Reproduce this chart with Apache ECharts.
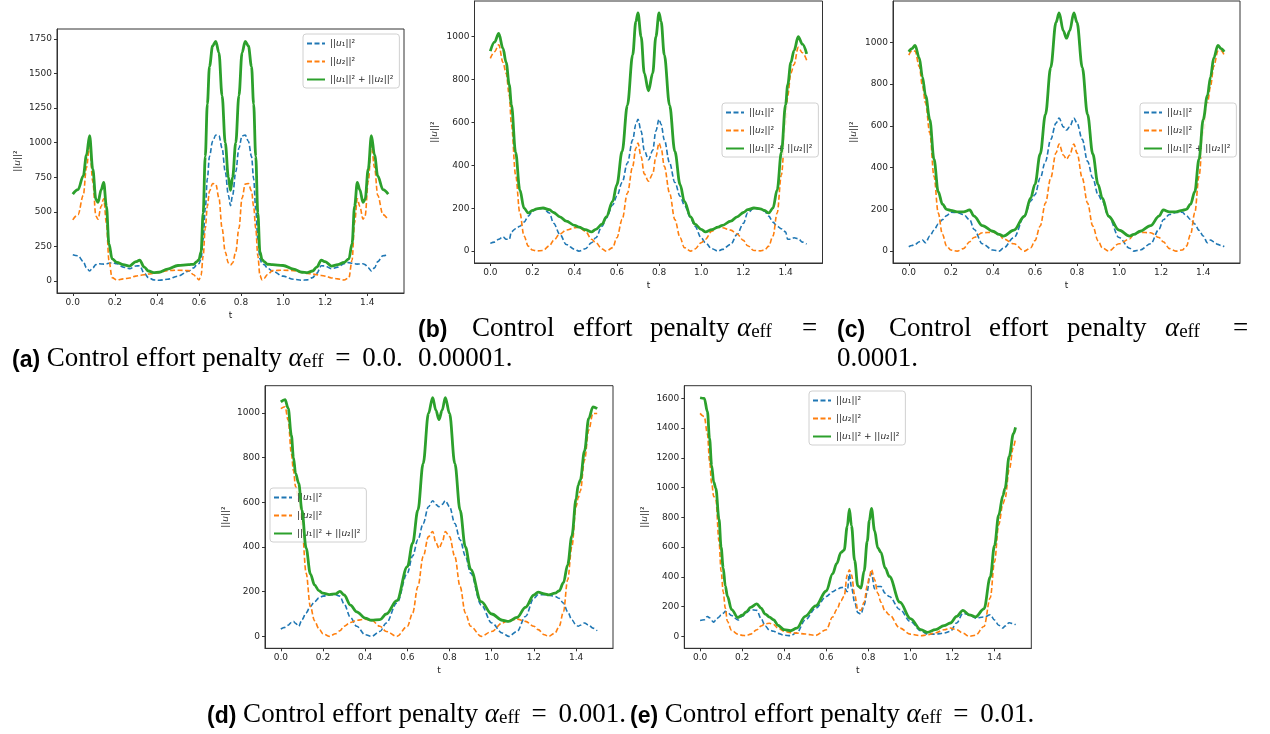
<!DOCTYPE html>
<html><head><meta charset="utf-8">
<script src="https://cdn.jsdelivr.net/npm/echarts@6/dist/echarts.min.js"></script>
<style>html,body{margin:0;padding:0;background:#fff}#c{width:1270px;height:734px}</style>
</head><body><div id="c"></div>
<script>
// ---------- data ----------
const xTicks = [0, 0.2, 0.4, 0.6, 0.8, 1.0, 1.2, 1.4];
const A_yTicks = [0, 250, 500, 750, 1000, 1250, 1500, 1750];
const BCD_yTicks = [0, 200, 400, 600, 800, 1000];
const E_yTicks = [0, 200, 400, 600, 800, 1000, 1200, 1400, 1600];

// (a) alpha_eff = 0.0
const A_t = [0,0.025,0.05,0.065,0.08,0.095,0.11,0.12,0.135,0.147,0.16,0.172,0.187,0.21,0.24,0.27,0.3,0.318,0.34,0.36,0.385,0.41,0.45,0.5,0.55,0.575,0.59,0.6,0.61,0.62,0.63,0.64,0.65,0.665,0.68,0.695,0.71,0.725,0.74,0.75,
  0.76,0.775,0.79,0.805,0.82,0.835,0.85,0.86,0.87,0.88,0.89,0.9,0.91,0.925,0.95,1.0,1.05,1.09,1.115,1.14,1.16,1.182,1.2,1.23,1.26,1.29,1.313,1.328,1.34,1.353,1.365,1.38,1.39,1.405,1.42,1.435,1.45,1.475,1.5];
const A_u1 = [190,182,140,95,72,95,118,125,123,122,124,128,133,125,100,89,108,110,55,24,8,5,12,35,70,95,118,125,160,300,520,740,900,1010,1055,1050,960,790,620,545,
  620,790,960,1050,1055,1010,900,740,520,300,160,125,118,95,70,35,12,5,8,24,55,110,108,89,100,125,133,128,124,122,123,125,118,95,72,95,140,182,190];
const A_u2 = [442,480,620,820,985,720,470,447,540,595,420,150,24,7,15,22,35,40,45,50,55,62,75,78,75,45,20,8,40,180,380,540,650,705,700,600,380,210,130,115,
  130,210,380,600,700,705,650,540,380,180,40,8,20,45,75,78,75,62,55,50,45,40,35,22,15,7,24,150,420,595,540,447,470,720,985,820,620,480,442];
const A_sum = [628,660,760,910,1050,810,590,568,660,712,540,270,160,135,118,108,140,150,100,72,60,63,85,112,118,121,140,155,210,490,900,1280,1550,1700,1732,1650,1340,1000,750,655,
  750,1000,1340,1650,1732,1700,1550,1280,900,490,210,155,140,121,118,112,85,63,60,72,100,150,140,108,118,135,160,270,540,712,660,568,590,810,1050,910,760,660,628];

// (b) alpha_eff = 0.00001
const B_t = [0,0.02,0.04,0.06,0.075,0.09,0.1,0.12,0.14,0.16,0.18,0.2,0.22,0.25,0.28,0.3,0.33,0.36,0.4,0.42,0.45,0.48,0.5,0.53,0.55,0.58,0.6,0.625,0.65,0.675,0.69,0.7,0.715,0.73,0.75,
  0.77,0.785,0.8,0.81,0.825,0.85,0.875,0.9,0.92,0.95,0.97,1.0,1.02,1.05,1.08,1.1,1.14,1.17,1.2,1.22,1.25,1.28,1.3,1.32,1.34,1.36,1.38,1.4,1.41,1.425,1.44,1.46,1.48,1.5];
const B_u1 = [36,42,55,67,55,55,90,104,116,135,163,186,196,200,178,130,78,31,8,0,11,39,62,116,155,215,256,320,411,519,590,615,560,470,426,
  470,560,615,590,519,411,320,256,215,155,116,62,39,11,0,8,31,78,130,178,200,196,186,163,135,116,104,90,55,55,62,58,42,33];
const B_u2 = [899,930,962,880,830,725,590,355,178,70,23,5,1,3,25,50,80,98,109,112,93,55,39,10,0,16,62,147,270,395,480,504,440,360,326,
  360,440,504,480,395,270,147,62,16,0,10,39,55,93,112,109,98,80,50,25,3,1,5,23,70,178,355,590,725,830,870,950,925,890];
const B_sum = [933,975,1015,945,880,775,683,460,285,200,178,190,197,201,193,180,160,140,120,112,100,90,101,126,160,232,310,465,680,915,1070,1111,1000,830,748,
  830,1000,1111,1070,915,680,465,310,232,160,126,101,90,100,112,120,140,160,180,193,201,197,190,178,200,285,460,683,775,880,935,1000,965,920];

// (c) alpha_eff = 0.0001
const C_t = [0,0.015,0.03,0.05,0.065,0.08,0.1,0.12,0.14,0.16,0.18,0.2,0.23,0.26,0.29,0.31,0.35,0.4,0.43,0.45,0.5,0.55,0.58,0.6,0.625,0.65,0.675,0.7,0.715,0.735,0.75,
  0.765,0.785,0.8,0.825,0.85,0.875,0.9,0.92,0.95,1.0,1.05,1.07,1.1,1.15,1.19,1.21,1.24,1.27,1.3,1.32,1.34,1.36,1.38,1.4,1.42,1.435,1.45,1.47,1.485,1.5];
const C_u1 = [21,27,32,45,53,40,72,100,130,151,170,186,185,175,150,105,35,5,0,14,65,167,240,270,350,430,535,613,637,595,580,
  595,637,613,535,430,350,270,240,167,65,14,0,5,35,105,150,175,185,186,170,151,130,100,72,40,53,45,32,27,21];
const C_u2 = [939,960,958,884,790,708,565,358,183,80,24,5,0,12,45,65,88,90,80,58,35,0,16,50,120,230,350,470,513,460,440,
  460,513,470,350,230,120,50,16,0,35,58,80,90,88,65,45,12,0,5,24,80,183,358,565,708,790,884,958,960,939];
const C_sum = [955,970,985,925,835,745,630,440,285,225,200,195,188,188,197,168,122,95,80,72,100,167,255,320,465,655,880,1095,1141,1055,1020,
  1055,1141,1095,880,655,465,320,255,167,100,72,80,95,122,168,197,188,188,195,200,225,285,440,630,745,835,925,985,970,955];

// (d) alpha_eff = 0.001
const D_t = [0,0.02,0.035,0.05,0.06,0.07,0.085,0.1,0.12,0.14,0.16,0.18,0.2,0.23,0.26,0.28,0.3,0.33,0.36,0.4,0.43,0.47,0.5,0.55,0.6,0.625,0.65,0.675,0.7,0.72,0.735,0.75,0.765,0.78,0.8,0.825,0.85,0.875,0.9,0.95,1.0,1.05,1.08,1.12,1.16,1.2,1.22,1.25,1.27,1.3,1.32,1.34,1.36,1.38,1.4,1.41,1.42,1.44,1.46,1.48,1.5];
const D_u1 = [33,40,50,62,67,58,45,74,105,134,155,171,180,186,186,180,145,85,45,7,0,22,60,149,283,360,432,505,580,607,590,580,590,607,580,505,432,360,283,141,60,15,0,22,89,171,186,186,184,179,170,149,110,74,50,45,50,60,50,37,25];
const D_u2 = [1019,1027,967,818,740,670,610,491,283,134,70,35,12,0,12,25,45,62,72,77,72,45,22,0,45,104,223,357,446,469,420,394,420,469,446,357,223,104,45,0,22,60,72,77,67,45,30,7,0,15,45,110,253,402,580,620,650,789,923,997,997];
const D_sum = [1049,1059,1020,900,800,729,684,565,395,280,230,205,193,187,190,201,185,140,110,82,72,75,100,160,312,417,565,774,997,1068,1012,970,1012,1068,997,774,565,400,300,155,100,72,67,85,130,185,198,190,186,193,204,240,320,450,615,677,699,830,975,1027,1019];

// (e) alpha_eff = 0.01
const E_t = [0,0.02,0.035,0.045,0.055,0.065,0.075,0.09,0.1,0.11,0.12,0.13,0.15,0.18,0.2,0.22,0.24,0.27,0.29,0.31,0.33,0.35,0.37,0.4,0.43,0.46,0.5,0.55,0.6,0.63,0.65,0.67,0.685,0.7,0.71,0.72,0.735,0.75,0.765,0.78,0.795,0.805,0.815,0.83,0.845,0.86,0.88,0.9,0.95,1.0,1.05,1.08,1.12,1.16,1.19,1.22,1.25,1.28,1.31,1.35,1.38,1.4,1.42,1.44,1.45,1.47,1.49,1.5];
const E_u1 = [107,112,134,125,105,96,110,130,145,155,168,162,140,110,135,160,180,175,120,70,42,35,20,8,5,25,110,190,268,300,315,328,330,300,420,330,230,160,150,210,300,390,425,320,335,335,290,268,180,100,38,15,15,22,34,90,155,145,123,130,145,110,75,56,70,92,85,78];
const E_u2 = [1499,1477,1360,1180,1030,940,920,640,440,300,190,100,40,15,7,5,15,45,70,85,88,80,55,35,25,22,16,7,45,130,180,240,270,414,447,414,280,180,175,230,340,400,450,380,290,230,170,145,56,15,4,10,25,45,56,45,22,0,8,67,260,500,750,890,925,1120,1275,1331];
const E_sum = [1604,1600,1510,1330,1150,1036,995,790,600,460,340,270,180,127,142,165,195,218,190,150,130,112,75,45,38,55,135,205,305,420,490,565,580,740,855,744,510,340,325,440,640,780,860,710,595,565,460,403,230,120,45,27,45,72,90,135,175,145,131,185,400,610,815,946,995,1210,1362,1405];

// ---------- layout ----------
const panels = [
  {t:A_t, u1:A_u1, u2:A_u2, sum:A_sum, ticks:A_yTicks,   ymin:-87,  ymax:1822, grid:{left:57,  top:29,    width:347, height:264}, leg:{left:303, top:34}},
  {t:B_t, u1:B_u1, u2:B_u2, sum:B_sum, ticks:BCD_yTicks, ymin:-55.5,ymax:1166.5,grid:{left:474.5,top:1,   width:348, height:262}, leg:{left:722, top:103}},
  {t:C_t, u1:C_u1, u2:C_u2, sum:C_sum, ticks:BCD_yTicks, ymin:-57,  ymax:1198, grid:{left:893,  top:1,     width:347, height:262}, leg:{left:1140,top:103}},
  {t:D_t, u1:D_u1, u2:D_u2, sum:D_sum, ticks:BCD_yTicks, ymin:-53.4,ymax:1121.4,grid:{left:265, top:385.7, width:348, height:262.6}, leg:{left:270, top:488}},
  {t:E_t, u1:E_u1, u2:E_u2, sum:E_sum, ticks:E_yTicks,   ymin:-80,  ymax:1685, grid:{left:684.3,top:385.7, width:347, height:262.6}, leg:{left:809, top:391}}
];

const AX = '#333', TX = '#262626';
const FONT = 'DejaVu Sans';
const legRich = {
  n:{fontFamily:FONT, fontSize:9, color:TX},
  i:{fontFamily:FONT, fontSize:9, fontStyle:'italic', color:TX}
};
const legLabels = {
  u1: '{n|||}{i|u}{n|₁||²}',
  u2: '{n|||}{i|u}{n|₂||²}',
  sum:'{n|||}{i|u}{n|₁||² + ||}{i|u}{n|₂||²}'
};

const grids = [], xAxes = [], yAxes = [], series = [], legends = [];
panels.forEach((p, i) => {
  grids.push(Object.assign({show:true, borderColor:AX, borderWidth:1, backgroundColor:'#fff', containLabel:false}, p.grid));
  xAxes.push({
    type:'value', gridIndex:i, min:-0.075, max:1.575,
    name:'t', nameLocation:'middle', nameGap:18,
    nameTextStyle:{fontFamily:FONT, fontSize:9, color:TX},
    axisLine:{show:true, onZero:false, lineStyle:{color:AX, width:1}},
    axisTick:{show:true, customValues:xTicks, length:3, lineStyle:{color:AX, width:1}},
    axisLabel:{show:true, customValues:xTicks, formatter:v => v.toFixed(1), fontFamily:FONT, fontSize:9, color:TX, margin:5},
    splitLine:{show:false}
  });
  yAxes.push({
    type:'value', gridIndex:i, min:p.ymin, max:p.ymax,
    name:'{n|||}{i|u}{n|||²}', nameLocation:'middle', nameGap:35, nameRotate:90,
    nameTextStyle:{fontFamily:FONT, fontSize:9, color:TX, rich:legRich},
    axisLine:{show:true, onZero:false, lineStyle:{color:AX, width:1}},
    axisTick:{show:true, customValues:p.ticks, length:3, lineStyle:{color:AX, width:1}},
    axisLabel:{show:true, customValues:p.ticks, formatter:v => String(Math.round(v)), fontFamily:FONT, fontSize:9, color:TX, margin:5},
    splitLine:{show:false}
  });
  const mk = arr => p.t.map((t, k) => [t, arr[k]]);
  series.push({name:'u1', type:'line', xAxisIndex:i, yAxisIndex:i, data:mk(p.u1), symbol:'none', smooth:0.35, smoothMonotone:'x',
    lineStyle:{color:'#1f77b4', width:1.6, type:[5,2.5]}, itemStyle:{color:'#1f77b4'}, z:2});
  series.push({name:'u2', type:'line', xAxisIndex:i, yAxisIndex:i, data:mk(p.u2), symbol:'none', smooth:0.35, smoothMonotone:'x',
    lineStyle:{color:'#ff7f0e', width:1.6, type:[5,2.5]}, itemStyle:{color:'#ff7f0e'}, z:3});
  series.push({name:'sum', type:'line', xAxisIndex:i, yAxisIndex:i, data:mk(p.sum), symbol:'none', smooth:0.35, smoothMonotone:'x',
    lineStyle:{color:'#2ca02c', width:2.8}, itemStyle:{color:'#2ca02c'}, z:4});
  legends.push({
    left:p.leg.left, top:p.leg.top, orient:'vertical', data:['u1','u2','sum'], selectedMode:false,
    itemWidth:18, itemHeight:9, itemGap:9, padding:[5,6,4,3],
    borderColor:'#d0d0d0', borderWidth:1, borderRadius:3, backgroundColor:'rgba(255,255,255,0.85)',
    itemStyle:{opacity:0, borderWidth:0},
    textStyle:{fontFamily:FONT, fontSize:9, color:TX, rich:legRich},
    formatter:name => legLabels[name]
  });
});

// ---------- captions ----------
const FS = 27;
const capRich = {
  b:{fontFamily:'Liberation Sans', fontWeight:'bold', fontSize:23, fill:'#000', lineHeight:30, verticalAlign:'bottom'},
  r:{fontFamily:'Liberation Serif', fontSize:FS, fill:'#000', lineHeight:30, verticalAlign:'bottom'},
  e:{fontFamily:'Liberation Serif', fontSize:FS, fill:'#000', lineHeight:30, verticalAlign:'bottom', padding:[0,5,0,5]},
  a:{fontFamily:'Liberation Serif', fontStyle:'italic', fontSize:FS, fill:'#000', lineHeight:30, verticalAlign:'bottom'},
  s:{fontFamily:'Liberation Serif', fontSize:19, fill:'#000', lineHeight:15, verticalAlign:'bottom'}
};
function cap(x, y, text) {
  return {type:'text', x:x, y:y, silent:true, style:{text:text, rich:capRich, align:'left', verticalAlign:'middle'}};
}
const graphics = [
  cap(12, 357, '{b|(a)}{r| Control effort penalty }{a|α}{s|eff}{r| }{e|=}{r| 0.0.}'),
  cap(418, 327, '{b|(b)}'), cap(472, 327, '{r|Control}'), cap(573, 327, '{r|effort}'), cap(650, 327, '{r|penalty}'),
  cap(737, 327, '{a|α}{s|eff}'), cap(802, 327, '{r|=}'),
  cap(418, 357, '{r|0.00001.}'),
  cap(837, 327, '{b|(c)}'), cap(889, 327, '{r|Control}'), cap(989, 327, '{r|effort}'), cap(1067, 327, '{r|penalty}'),
  cap(1165, 327, '{a|α}{s|eff}'), cap(1233, 327, '{r|=}'),
  cap(837, 357, '{r|0.0001.}'),
  cap(207, 713, '{b|(d)}{r| Control effort penalty }{a|α}{s|eff}{r| }{e|=}{r| 0.001.}'),
  cap(630, 713, '{b|(e)}{r| Control effort penalty }{a|α}{s|eff}{r| }{e|=}{r| 0.01.}')
];

const chart = echarts.init(document.getElementById('c'), null, {renderer:'canvas'});
chart.setOption({
  animation:false,
  backgroundColor:'#fff',
  grid:grids, xAxis:xAxes, yAxis:yAxes, series:series, legend:legends,
  graphic:graphics
});
</script>
</body></html>
